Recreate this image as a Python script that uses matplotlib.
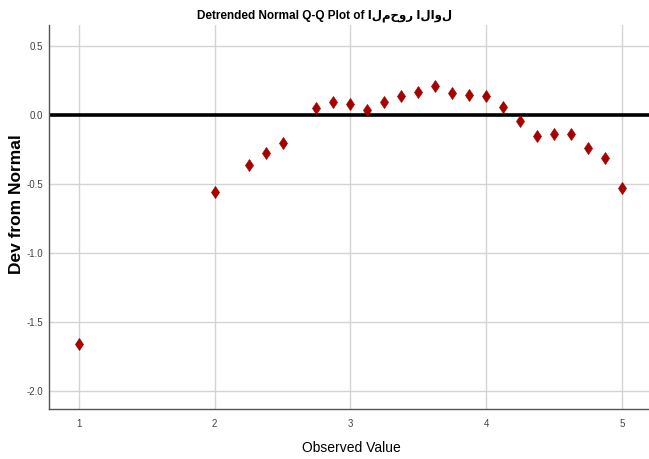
import numpy as np
import matplotlib.pyplot as plt

observed = [1, 2, 2.25, 2.375, 2.5, 2.75, 2.875, 3, 3.125, 3.25, 3.375, 3.5,
            3.625, 3.75, 3.875, 4, 4.125, 4.25, 4.375, 4.5, 4.625, 4.75, 4.875, 5]
deviation = [-1.66, -0.56, -0.36, -0.27, -0.20, 0.05, 0.10, 0.085, 0.04, 0.10,
             0.14, 0.17, 0.21, 0.16, 0.15, 0.14, 0.06, -0.04, -0.15, -0.135,
             -0.135, -0.235, -0.31, -0.53]
x_ticks = [1, 2, 3, 4, 5]
y_ticks = [0.5, 0.0, -0.5, -1.0, -1.5, -2.0]
title = "Detrended Normal Q-Q Plot of المحور الاول"

fam = ['Liberation Sans', 'DejaVu Sans']

fig = plt.figure(figsize=(6.49, 4.59), dpi=100)
ax = fig.add_axes([0.0755, 0.1083, 0.9245, 0.8372])

ax.set_xlim(0.779, 5.2)
ax.set_ylim(-2.135, 0.656)
ax.set_xticks(x_ticks)
ax.set_yticks(y_ticks)
ax.set_xticklabels([str(v) for v in x_ticks], fontsize=7, color='#444444', family=fam)
ax.set_yticklabels(['%.1f' % v for v in y_ticks], fontsize=7, color='#444444', family=fam)
ax.tick_params(axis='x', length=0, pad=7)
ax.tick_params(axis='y', length=0, pad=4)

ax.grid(True, color='#d4d4d4', linewidth=1)
ax.set_axisbelow(True)
for s in ['top', 'right']:
    ax.spines[s].set_visible(False)
for s in ['left', 'bottom']:
    ax.spines[s].set_color('#555555')
    ax.spines[s].set_linewidth(1)

ax.axhline(0, color='black', linewidth=2.6, zorder=2)
ax.plot(observed, deviation, linestyle='none', marker='d', markersize=6.5,
        markerfacecolor='#a50000', markeredgecolor='#a50000', markeredgewidth=0.5, zorder=3)

fig.text(0.5, 0.966, title, ha='center', va='center', fontsize=8.5,
         fontweight='bold', family=fam)
fig.text(0.542, 0.025, 'Observed Value', ha='center', va='center', fontsize=10,
         family=fam)
fig.text(0.025, 0.555, 'Dev from Normal', ha='center', va='center', rotation=90,
         fontsize=12.5, fontweight='bold', family=fam)

fig.savefig('out.png', dpi=100)
